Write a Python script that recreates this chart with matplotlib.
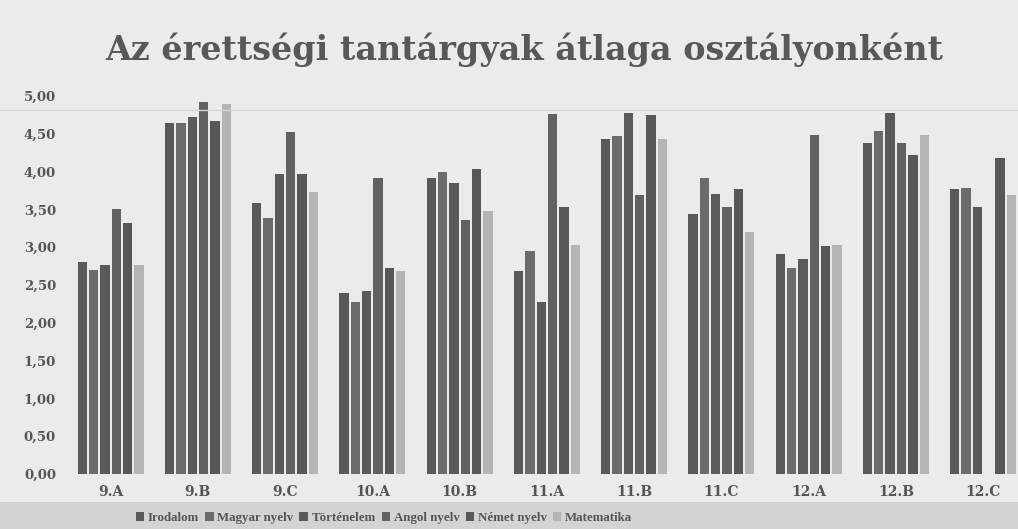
import matplotlib
matplotlib.use("Agg")
import matplotlib.pyplot as plt
from matplotlib.lines import Line2D
import numpy as np

classes = ["9.A", "9.B", "9.C", "10.A", "10.B", "11.A", "11.B", "11.C", "12.A", "12.B", "12.C"]
subjects = ["Irodalom", "Magyar nyelv", "Történelem", "Angol nyelv", "Német nyelv", "Matematika"]

irodalom   = [2.80, 4.64, 3.58, 2.40, 3.92, 2.69, 4.43, 3.44, 2.91, 4.38, 3.77]
magyar     = [2.70, 4.64, 3.39, 2.28, 3.99, 2.95, 4.47, 3.91, 2.73, 4.54, 3.78]
tortenelem = [2.76, 4.72, 3.97, 2.42, 3.85, 2.27, 4.78, 3.70, 2.84, 4.78, 3.53]
angol      = [3.50, 4.92, 4.53, 3.92, 3.36, 4.76, 3.69, 3.53, 4.48, 4.38, 0.00]
nemet      = [3.32, 4.67, 3.97, 2.73, 4.03, 3.53, 4.75, 3.77, 3.02, 4.22, 4.18]
matek      = [2.76, 4.89, 3.73, 2.69, 3.48, 3.03, 4.43, 3.20, 3.03, 4.49, 3.69]

series = [irodalom, magyar, tortenelem, angol, nemet, matek]
colors = ["#595959", "#6b6b6b", "#5a5a5a", "#616161", "#575757", "#b4b4b4"]

yticks = [0, 0.5, 1.0, 1.5, 2.0, 2.5, 3.0, 3.5, 4.0, 4.5, 5.0]

W, H = 1018, 529
fig = plt.figure(figsize=(W / 100, H / 100), dpi=100)
fig.patch.set_facecolor("#ebebeb")

# darker scan band at the bottom
fig.patches.append(plt.Rectangle((0, 0), 1, 27 / H, transform=fig.transFigure,
                                 facecolor="#d3d3d3", edgecolor="none", zorder=0))
# faint horizontal line near top
fig.add_artist(Line2D([0, 1], [1 - 110 / H, 1 - 110 / H], transform=fig.transFigure,
                      color="#d6d6d6", lw=1.0))

left = 67 / W
right = 1026.7 / W
bottom = (H - 474) / H
top = (H - 96) / H
ax = fig.add_axes([left, bottom, right - left, top - bottom])
ax.set_facecolor("none")

x = np.arange(len(classes))
slot = 0.13
bw = 0.107
for j, (vals, c, name) in enumerate(zip(series, colors, subjects)):
    ax.bar(x + (j - 2.5) * slot, vals, width=bw, color=c, label=name, zorder=2)

ax.set_xlim(-0.5, len(classes) - 0.5)
ax.set_ylim(0, 5.0)
ax.set_yticks(yticks)
ax.set_yticklabels([f"{v:.2f}".replace(".", ",") for v in yticks],
                   fontfamily="DejaVu Serif", fontweight="bold", fontsize=9.5, color="#555555")
ax.set_xticks(x)
ax.set_xticklabels(classes, fontfamily="DejaVu Serif", fontweight="bold", fontsize=10, color="#555555")
ax.tick_params(axis="both", length=0)
ax.tick_params(axis="y", pad=8)
ax.tick_params(axis="x", pad=8)
for s in ax.spines.values():
    s.set_visible(False)

fig.text(0.515, 1 - 50 / H, "Az érettségi tantárgyak átlaga osztályonként",
         ha="center", va="center", fontfamily="DejaVu Serif", fontweight="bold",
         fontsize=24, color="#585858")

leg = fig.legend(loc="center", bbox_to_anchor=(384 / W, 1 - 518 / H), ncol=6,
                 frameon=False, handlelength=0.65, handleheight=0.65, handletextpad=0.3,
                 columnspacing=0.45, prop={"family": "Liberation Serif", "weight": "bold", "size": 9.3})
for t in leg.get_texts():
    t.set_color("#555555")

fig.savefig("out.png", dpi=100, facecolor=fig.get_facecolor())
